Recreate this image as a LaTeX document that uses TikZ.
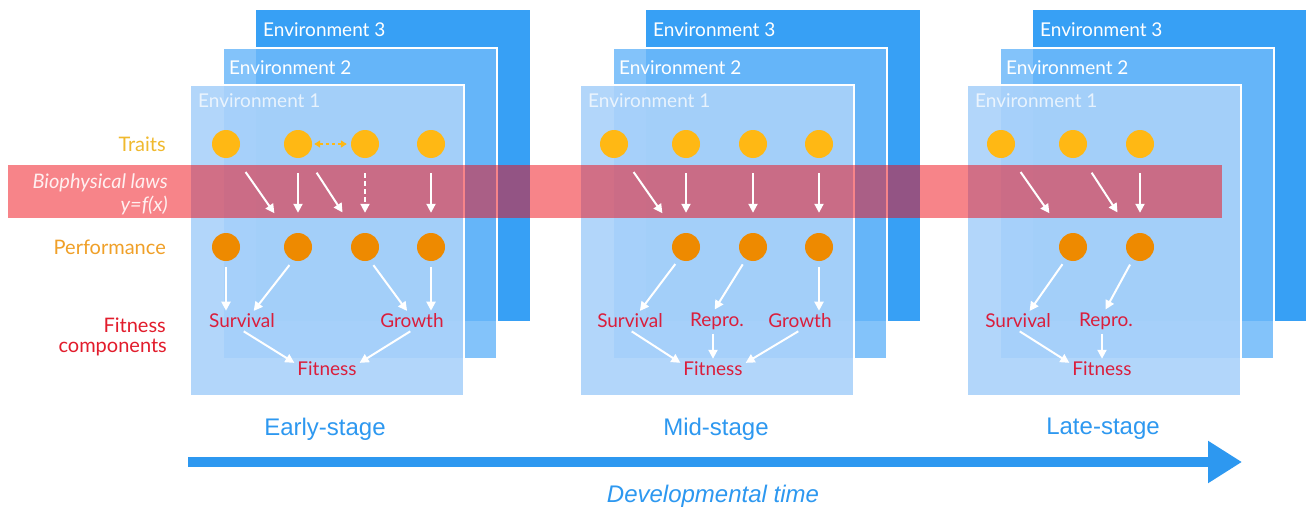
\documentclass[tikz,border=0pt]{standalone}
\usepackage{fontspec}
\setmainfont{Lato}
\newfontfamily\stagefont{Liberation Sans}
\usepackage{tikz}
\usetikzlibrary{arrows.meta}

\definecolor{envdark}{RGB}{55,160,245}
\definecolor{envmid}{RGB}{110,185,250}
\definecolor{envlight}{RGB}{170,210,250}
\definecolor{lawred}{RGB}{240,10,20}
\definecolor{traitgold}{RGB}{255,184,20}
\definecolor{perforange}{RGB}{238,138,0}
\definecolor{traitlab}{RGB}{240,185,45}
\definecolor{perflab}{RGB}{240,160,40}
\definecolor{fitred}{RGB}{226,28,44}
\definecolor{comptext}{RGB}{218,30,60}
\definecolor{timeblue}{RGB}{45,152,240}

\begin{document}
\begin{tikzpicture}[x=1pt, y=-1pt,
    txt/.style={font=\fontsize{19}{22}\selectfont, inner sep=2pt},
    envlab/.style={txt, white, anchor=west},
    rowlab/.style={font=\fontsize{20}{24}\selectfont, anchor=east, inner sep=0pt},
    tdot/.style={circle, fill=traitgold, minimum size=28pt, inner sep=0pt},
    pdot/.style={circle, fill=perforange, minimum size=28pt, inner sep=0pt},
    comp/.style={txt, comptext},
    stage/.style={font=\stagefont\fontsize{24}{28}\selectfont, timeblue},
    law/.style={white, line width=2pt, -{Triangle[length=9pt,width=9pt]}, shorten <=15pt, shorten >=20pt},
    lawslant/.style={law, shorten <=20pt, shorten >=27pt},
    lawdash/.style={law, dash pattern=on 5pt off 3pt},
    flow/.style={white, line width=2pt, -{Triangle[length=9pt,width=9pt]}, shorten <=6pt, shorten >=1pt},
    linkdash/.style={traitgold, line width=2pt, dash pattern=on 3pt off 3pt,
      {Triangle[length=6pt,width=7pt]}-{Triangle[length=6pt,width=7pt]}, shorten <=2pt, shorten >=4pt}]

\fill[white] (0,0) rectangle (1306,511);
\useasboundingbox (0,0) rectangle (1306,511);

% three stacked environments per stage
\foreach \lx in {190,580,967}{
  \fill[envdark] (\lx+66,10) rectangle +(274,311);
  \draw[white, line width=1.5pt, fill=envmid, fill opacity=0.85] (\lx+33,48) rectangle +(274,311);
  \draw[white, line width=1.5pt, fill=envlight, fill opacity=0.9] (\lx,85) rectangle +(274,311);
  \node[envlab] (envc-\lx) at (\lx+71,30) {Environment 3};
  \node[envlab] (envb-\lx) at (\lx+37,68) {Environment 2};
  \node[envlab, text opacity=0.75] (enva-\lx) at (\lx+6,101) {Environment 1};
}

\fill[lawred, opacity=0.5] (8,165) rectangle (1222,218);

\node[rowlab, traitlab] (traits) at (166,144) {Traits};
\node[rowlab, white!94!red, font=\fontsize{20}{24}\selectfont\itshape] (laws) at (168,183) {Biophysical laws};
\node[rowlab, white!94!red, font=\fontsize{20}{24}\selectfont\itshape] (lawy) at (168,205) {y=f(x)};
\node[rowlab, perflab] (perf) at (166,247) {Performance};
\node[rowlab, fitred] (fitlab) at (166,325) {Fitness};
\node[rowlab, fitred] (complab) at (167,348) {components};

% early stage
\node[tdot] (et1) at (226,144) {};
\node[tdot] (et2) at (298,144) {};
\node[tdot] (et3) at (365,144) {};
\node[tdot] (et4) at (431,144) {};
\node[pdot] (ep1) at (226,247) {};
\node[pdot] (ep2) at (298,247) {};
\node[pdot] (ep3) at (365,247) {};
\node[pdot] (ep4) at (431,247) {};
\node[comp] (esurv) at (242,321) {Survival};
\node[comp] (egrow) at (412,321) {Growth};
\node[comp] (efit) at (327,369) {Fitness};

\draw[linkdash] (et2) -- (et3);
\draw[lawslant] (et1) -- (ep2);
\draw[law] (et2) -- (ep2);
\draw[lawslant] (et2) -- (ep3);
\draw[lawdash] (et3) -- (ep3);
\draw[law] (et4) -- (ep4);
\draw[flow] (ep1) -- (ep1 |- esurv.north);
\draw[flow] (ep2.250) -- (esurv.40);
\draw[flow] (ep3.290) -- (egrow.115);
\draw[flow] (ep4) -- (ep4 |- egrow.north);
\draw[flow, shorten <=2pt] (esurv.south) -- (efit.170);
\draw[flow, shorten <=2pt] (egrow.south) -- (efit.10);

% mid stage
\node[tdot] (mt1) at (614,144) {};
\node[tdot] (mt2) at (686,144) {};
\node[tdot] (mt3) at (753,144) {};
\node[tdot] (mt4) at (819,144) {};
\node[pdot] (mp2) at (686,247) {};
\node[pdot] (mp3) at (753,247) {};
\node[pdot] (mp4) at (819,247) {};
\node[comp] (msurv) at (630,321) {Survival};
\node[comp] (mrep) at (717,321) {Repro.};
\node[comp] (mgrow) at (800,321) {Growth};
\node[comp] (mfit) at (713,369) {Fitness};

\draw[lawslant] (mt1) -- (mp2);
\draw[law] (mt2) -- (mp2);
\draw[law] (mt3) -- (mp3);
\draw[law] (mt4) -- (mp4);
\draw[flow] (mp2.240) -- (msurv.45);
\draw[flow] (mp3.240) -- (mrep.105);
\draw[flow] (mp4) -- (mp4 |- mgrow.north);
\draw[flow, shorten <=2pt] (msurv.south) -- (mfit.170);
\draw[flow, shorten <=2pt] (mfit.north |- mrep.south) -- (mfit.north);
\draw[flow, shorten <=2pt] (mgrow.south) -- (mfit.10);

% late stage
\node[tdot] (lt1) at (1001,144) {};
\node[tdot] (lt2) at (1073,144) {};
\node[tdot] (lt3) at (1140,144) {};
\node[pdot] (lp2) at (1073,247) {};
\node[pdot] (lp3) at (1140,247) {};
\node[comp] (lsurv) at (1018,321) {Survival};
\node[comp] (lrep) at (1106,321) {Repro.};
\node[comp] (lfit) at (1102,369) {Fitness};

\draw[lawslant] (lt1) -- (lp2);
\draw[lawslant] (lt2) -- (lp3);
\draw[law] (lt3) -- (lp3);
\draw[flow] (lp2.240) -- (lsurv.40);
\draw[flow] (lp3.240) -- (lrep.95);
\draw[flow, shorten <=2pt] (lsurv.south) -- (lfit.170);
\draw[flow, shorten <=2pt] (lfit.north |- lrep.south) -- (lfit.north);

% time axis
\node[stage] (early) at (325,429) {Early-stage};
\node[stage] (middle) at (716,429) {Mid-stage};
\node[stage] (late) at (1103,429) {Late-stage};
\coordinate (tstart) at (188,462);
\coordinate (tend) at (1242,462);
\draw[timeblue, line width=10pt, -{Triangle[length=34pt,width=40pt]}] (tstart) -- (tend);
\node[stage, font=\stagefont\itshape\fontsize{24}{28}\selectfont] (devtime) at (713,496) {Developmental time};
\end{tikzpicture}
\end{document}
